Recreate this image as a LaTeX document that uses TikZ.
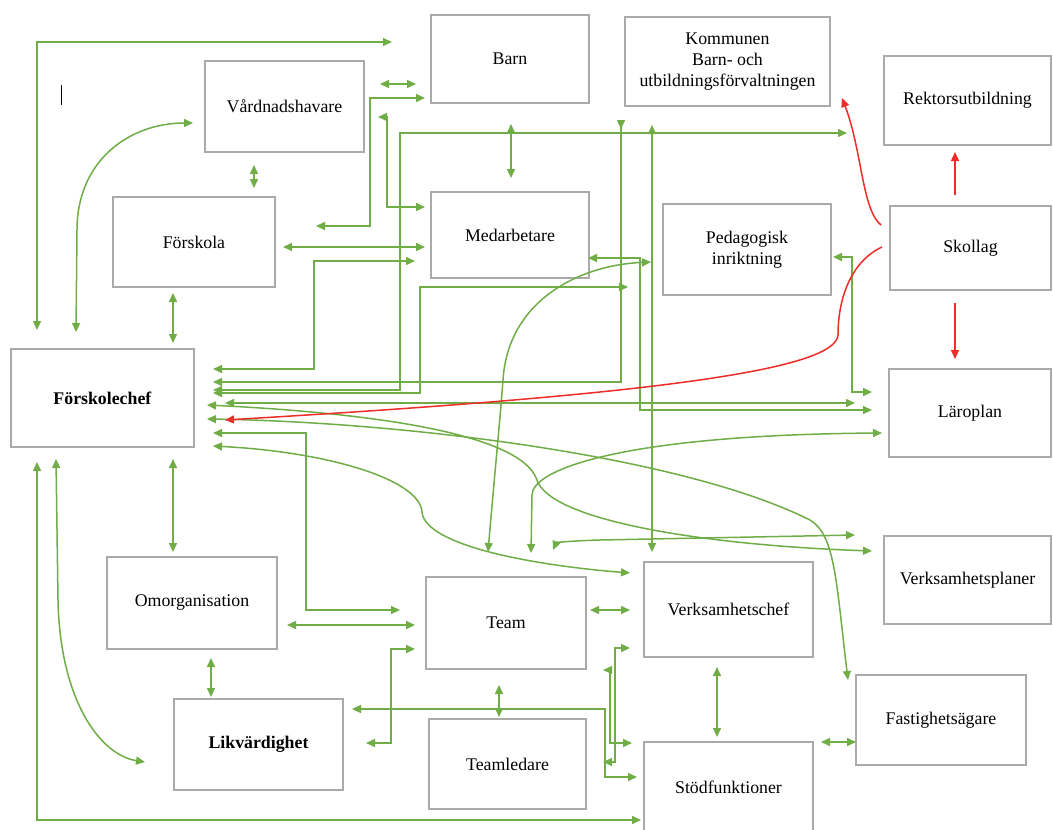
\documentclass[tikz,border=0pt]{standalone}
\usepackage{fontspec}
\setmainfont{Liberation Serif}
\usetikzlibrary{arrows.meta}
\definecolor{grn}{RGB}{112,173,71}
\definecolor{bxc}{RGB}{170,170,170}
\definecolor{rd}{RGB}{238,45,40}
\newcommand\mkbox[6]{\node[box,minimum width=#4,minimum height=#5] (#1) at (#2,#3) {#6};}
\begin{document}
\begin{tikzpicture}[x=1pt,y=-1pt,
  >={Triangle[length=9pt,width=8pt]},
  box/.style={draw=bxc, line width=1.3pt, fill=white, align=center,
    font=\fontsize{17.8}{21}\selectfont, inner sep=0pt},
  g/.style={draw=grn, line width=1.5pt},
  r/.style={draw=rd, line width=1.5pt}]
\useasboundingbox[fill=white] (0,0) rectangle (1053,830);

% boxes
\mkbox{barn}{510}{59}{158pt}{88pt}{Barn}
\mkbox{komm}{727.5}{61.5}{205pt}{89pt}{Kommunen\\Barn- och\\utbildningsförvaltningen}
\mkbox{vard}{284.5}{106.5}{159pt}{91pt}{Vårdnadshavare}
\mkbox{rekt}{967.5}{100.5}{167pt}{89pt}{Rektorsutbildning}
\mkbox{forsk}{194}{242}{162pt}{90pt}{Förskola}
\mkbox{med}{510}{235}{158pt}{86pt}{Medarbetare}
\mkbox{ped}{747}{249.5}{168pt}{91pt}{Pedagogisk\\inriktning}
\mkbox{skol}{970.5}{248}{161pt}{84pt}{Skollag}
\mkbox{laro}{970}{413}{162pt}{88pt}{Läroplan}
\mkbox{fc}{102.5}{398}{183pt}{98pt}{\textbf{Förskolechef}}
\mkbox{omorg}{192}{603}{170pt}{92pt}{Omorganisation}
\mkbox{team}{506}{623}{160pt}{92pt}{Team}
\mkbox{verk}{728.5}{609.5}{169pt}{95pt}{Verksamhetschef}
\mkbox{vplan}{967.5}{580}{167pt}{88pt}{Verksamhetsplaner}
\mkbox{likv}{258.5}{744.5}{169pt}{91pt}{\textbf{Likvärdighet}}
\mkbox{tled}{507.5}{764}{157pt}{90pt}{Teamledare}
\node[draw=bxc, line width=1.3pt, fill=white, minimum width=169pt, minimum height=93pt,
  inner sep=0pt] (stod) at (728.5,788.5) {};
\node[font=\fontsize{17.8}{21}\selectfont] (stodt) at (728.5,787) {Stödfunktioner};
\mkbox{fast}{941}{720}{170pt}{90pt}{Fastighetsägare}

% text cursor
\draw[black, line width=0.8pt] (61,85) coordinate (cur1) -- (61,105) coordinate (cur2);

% green connectors
\draw[g,<->] (37,330) coordinate (a1) |- (392,42) coordinate (a2);
\draw[g,<->] (76,332) coordinate (b1) -- (77,230) .. controls (77,160) and (130,123) .. (193,123) coordinate (b2);
\draw[g,<->] (254,165) coordinate (c1) -- (254,188) coordinate (c2);
\draw[g,<->] (380,84) coordinate (d1) -- (416,84) coordinate (d2);
\draw[g,<->] (316,226) coordinate (e1) -| (370,98) -- (425,98) coordinate (e2);
\draw[g,<->] (378,117) coordinate (f1) -| (387,207) -- (425,207) coordinate (f2);
\draw[g,<->] (283,247) coordinate (h1) -- (425,247) coordinate (h2);
\draw[g,<->] (213,369) coordinate (i1) -| (314,261) -- (415,261) coordinate (i2);
\draw[g,arrows={Triangle[length=9pt,width=8pt]-Triangle[length=9pt,width=8pt,reversed]}]
  (213,382) coordinate (j1) -| (621,120) coordinate (j2);
\draw[g,<->] (213,390) coordinate (k1) -| (400,133) -- (847,133) coordinate (k2);
\draw[g,<->] (213,393) coordinate (l1) -| (420,287) -- (628,287) coordinate (l2);
\draw[g,<->] (225,403) coordinate (m1) -- (855,403) coordinate (m2);
\draw[g,<->] (833,257) coordinate (n1) -| (852,392) -- (872,392) coordinate (n2);
\draw[g,<->] (588,258) coordinate (o1) -| (640,410) -- (872,410) coordinate (o2);
\draw[g,<->] (652,125) coordinate (p1) -- (652,552) coordinate (p2);
\draw[g,<->] (511,124) coordinate (q1) -- (511,178) coordinate (q2);
\draw[g,<->] (488,552) coordinate (s1) .. controls (495,470) and (500,420) .. (503,380)
  .. controls (508,300) and (580,265) .. (651,262) coordinate (s2);
\draw[g,<->] (531,553) coordinate (t1) -- (532,495) .. controls (532,470) and (620,435) .. (882,433) coordinate (t2);
\draw[g,<->] (553,550) coordinate (u1) .. controls (556,543) and (565,541) .. (600,540) -- (855,535) coordinate (u2);
\draw[g,<->] (207,405) coordinate (v1) .. controls (350,412) and (520,430) .. (537,480)
  .. controls (550,520) and (700,545) .. (872,551) coordinate (v2);
\draw[g,<->] (207,419) coordinate (w1) .. controls (400,422) and (680,455) .. (810,520)
  .. controls (835,535) and (836,580) .. (848,680) coordinate (w2);
\draw[g,<->] (213,446) coordinate (x1) .. controls (330,452) and (420,480) .. (422,512)
  .. controls (425,545) and (530,565) .. (630,573) coordinate (x2);
\draw[g,<->] (213,433) coordinate (y1) -| (306,610) -- (400,610) coordinate (y2);
\draw[g,<->] (173,293) coordinate (z1) -- (173,343) coordinate (z2);
\draw[g,<->] (173,459) coordinate (aa1) -- (173,552) coordinate (aa2);
\draw[g,<->] (211,658) coordinate (ab1) -- (211,697) coordinate (ab2);
\draw[g,<->] (287,625) coordinate (ac1) -- (415,625) coordinate (ac2);
\draw[g,<->] (366,743) coordinate (ad1) -| (391,649) -- (415,649) coordinate (ad2);
\draw[g,<->] (352,709) coordinate (ae1) -| (605,777) -- (637,777) coordinate (ae2);
\draw[g,<->] (499,685) coordinate (af1) -- (499,717) coordinate (af2);
\draw[g,<->] (590,610) coordinate (ag1) -- (630,610) coordinate (ag2);
\draw[g,<->] (603,762) coordinate (ah1) -| (615,648) -- (630,648) coordinate (ah2);
\draw[g,<->] (603,670) coordinate (ai1) -| (610,743) -- (632,743) coordinate (ai2);
\draw[g,<->] (717,667) coordinate (aj1) -- (717,737) coordinate (aj2);
\draw[g,<->] (821,742) coordinate (ak1) -- (856,742) coordinate (ak2);
\draw[g,<->] (37,462) coordinate (al1) |- (641,820) coordinate (al2);
\draw[g,<->] (56,459) coordinate (am1) -- (58,600) .. controls (60,700) and (100,755) .. (145,762) coordinate (am2);

% red connectors
\draw[r,->] (882,247) coordinate (ra1) .. controls (850,262) and (838,300) .. (838,335)
  .. controls (836,370) and (650,395) .. (225,420) coordinate (ra2);
\draw[r,->] (881,225) coordinate (rb1) .. controls (862,210) and (862,150) .. (842,98) coordinate (rb2);
\draw[r,->] (955,195) coordinate (rc1) -- (955,152) coordinate (rc2);
\draw[r,->] (955,303) coordinate (rd1) -- (955,359) coordinate (rd2);
\end{tikzpicture}
\end{document}
